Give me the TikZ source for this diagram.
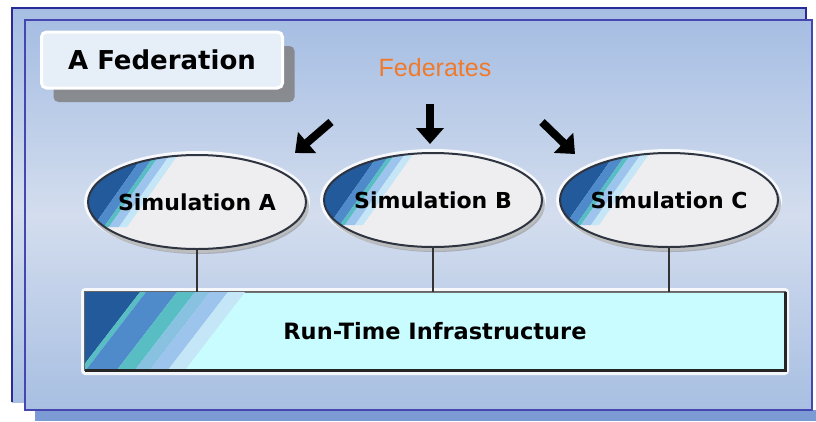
\documentclass[tikz,border=0pt]{standalone}
\usepackage{fontspec}
\setmainfont{DejaVu Sans}
\newfontfamily\arialfont{Liberation Sans}
\usetikzlibrary{arrows.meta,shapes.geometric,shadows}
\definecolor{panelTop}{HTML}{A6BEE3}
\definecolor{panelMid}{HTML}{D3DDEE}
\definecolor{panelBot}{HTML}{A8BFE2}
\definecolor{frontBorder}{HTML}{4646B0}
\definecolor{backBorder}{HTML}{2A2A98}
\definecolor{panelShadow}{HTML}{7C9BD5}
\definecolor{fedOrange}{HTML}{F07A2C}
\definecolor{ellFill}{HTML}{EEEEF0}
\definecolor{ellBorder}{HTML}{2E3440}
\definecolor{rtiFill}{HTML}{C8FCFF}
\definecolor{sA}{HTML}{235A9C}
\definecolor{sB}{HTML}{4F8ACB}
\definecolor{sC}{HTML}{58BEC4}
\definecolor{sD}{HTML}{9CC4EC}
\definecolor{sE}{HTML}{C4E6F6}
\definecolor{titleFill}{HTML}{E6EEF8}
\newcommand\simEll[4]{%
  \fill[white, opacity=.85] (#2,#3) ellipse [x radius=113, y radius=51];
  \fill[black!45, opacity=.55] (#2+2,#3+4) ellipse [x radius=110, y radius=48];
  \fill[ellFill] (#2,#3) ellipse [x radius=109, y radius=47];
  \begin{scope}
    \clip (#2,#3) ellipse [x radius=109, y radius=47];
    \begin{scope}[shift={(#2,#3)}]
      \fill[sA] (-140,-60) -- (-44,-60) -- (-104,25) -- (-140,25) -- cycle;
      \fill[sB] (-44,-60) -- (-33,-60) -- (-93,25) -- (-104,25) -- cycle;
      \fill[sC] (-33,-60) -- (-28,-60) -- (-88,25) -- (-93,25) -- cycle;
      \fill[sD] (-28,-60) -- (-18,-60) -- (-78,25) -- (-88,25) -- cycle;
      \fill[sE] (-18,-60) -- (-10,-60) -- (-70,25) -- (-78,25) -- cycle;
    \end{scope}
  \end{scope}
  \node[simnode] (#1) at (#2,#3) {\makebox[0pt]{#4}};
}
\tikzset{
  simnode/.style={ellipse, draw=ellBorder, line width=2pt, inner sep=0pt,
    minimum width=218pt, minimum height=94pt,
    font=\fontsize{22}{26}\selectfont\bfseries, text=black},
  rtinode/.style={rectangle, fill=rtiFill, draw=black!55, line width=1pt,
    minimum width=700pt, minimum height=78pt, inner sep=0pt,
    font=\fontsize{22.5}{26}\selectfont\bfseries},
  titlenode/.style={rectangle, rounded corners=5pt, fill=titleFill, draw=white,
    line width=3pt, minimum width=241pt, minimum height=56pt, inner sep=0pt,
    font=\fontsize{26}{30}\selectfont\bfseries,
    drop shadow={shadow xshift=12pt, shadow yshift=-14pt, fill=black!50, opacity=.85}},
  fedtext/.style={font=\arialfont\fontsize{25}{28}\selectfont, text=fedOrange},
  bigarrow/.style={line width=8pt, -{Triangle[width=27pt,length=16pt]}, black},
  link/.style={draw=black!80, line width=1.5pt}
}
\begin{document}
\begin{tikzpicture}[x=1pt,y=-1pt]
\useasboundingbox (0,0) rectangle (816,421);
\fill[white] (0,0) rectangle (816,421);
% back panel
\shade[top color=panelTop, bottom color=panelBot, middle color=panelMid] (12,8) rectangle (806,402);
\draw[backBorder, line width=2pt] (12,402) -- (12,8) -- (806,8) -- (806,20);
% front panel shadow (bottom only)
\fill[panelShadow] (35,410) rectangle (816,421);
% front panel
\shade[top color=panelTop, bottom color=panelBot, middle color=panelMid] (25,20) rectangle (812,410);
\draw[frontBorder, line width=2pt] (25,20) rectangle (812,410);
% title
\node[titlenode] (title) at (162,60) {A Federation};
% federates label
\node[fedtext] (fed) at (435,68) {Federates};
% arrows
\coordinate (aLs) at (331,122); \coordinate (aLe) at (295,153);
\coordinate (aMs) at (430,104); \coordinate (aMe) at (430,144);
\coordinate (aRs) at (542,122); \coordinate (aRe) at (575,154);
\draw[bigarrow] (aLs) -- (aLe);
\draw[bigarrow] (aMs) -- (aMe);
\draw[bigarrow] (aRs) -- (aRe);
% simulations
\simEll{simA}{197}{202}{Simulation A}
\simEll{simB}{433}{200}{Simulation B}
\simEll{simC}{669}{200}{Simulation C}
% RTI
\fill[white, opacity=.85, rounded corners=4pt] (81,288) rectangle (789,375);
\node[rtinode] (rti) at (435,331) {Run-Time Infrastructure};
\begin{scope}
  \clip (rti.north west) rectangle (rti.south east);
  \fill[sA] (60,292) -- (140,292) -- (80,370) -- (60,370) -- cycle;
  \fill[sC] (140,292) -- (146,292) -- (86,370) -- (80,370) -- cycle;
  \fill[sB] (146,292) -- (177,292) -- (117,370) -- (86,370) -- cycle;
  \fill[sC] (177,292) -- (195,292) -- (135,370) -- (117,370) -- cycle;
  \fill[sD!70!sC] (195,292) -- (210,292) -- (150,370) -- (135,370) -- cycle;
  \fill[sD] (210,292) -- (228,292) -- (168,370) -- (150,370) -- cycle;
  \fill[sE] (228,292) -- (245,292) -- (185,370) -- (168,370) -- cycle;
\end{scope}
\draw[black!60, line width=1pt] (rti.north west) rectangle (rti.south east);
\draw[black!85, line width=3pt] (rti.north east) -- (rti.south east) -- (rti.south west);
% links
\draw[link] (simA.south) -- (simA.south |- rti.north);
\draw[link] (simB.south) -- (simB.south |- rti.north);
\draw[link] (simC.south) -- (simC.south |- rti.north);
\end{tikzpicture}
\end{document}
